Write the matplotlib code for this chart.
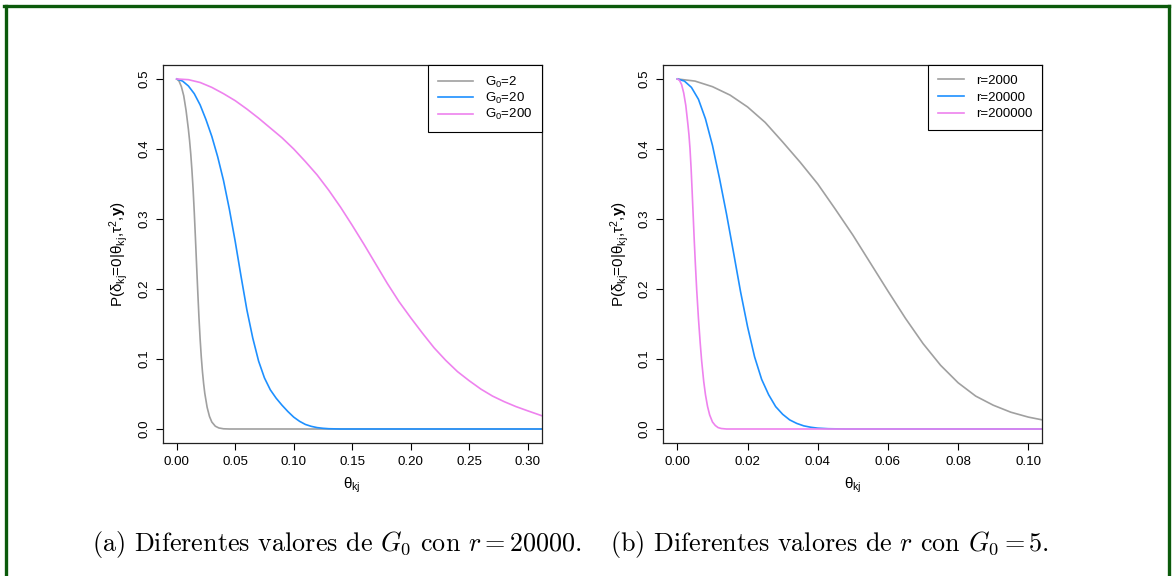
import matplotlib
matplotlib.use("Agg")
import matplotlib.pyplot as plt
from matplotlib.lines import Line2D

plt.rcParams['font.family'] = ['Liberation Sans', 'DejaVu Sans']
plt.rcParams['mathtext.fontset'] = 'custom'
plt.rcParams['mathtext.rm'] = 'Liberation Sans'
plt.rcParams['mathtext.it'] = 'Liberation Sans:italic'
plt.rcParams['mathtext.bf'] = 'Liberation Sans:bold'
plt.rcParams['mathtext.sf'] = 'Liberation Sans'

# (a) different G0, r = 20000
xa_g2 = [0.000, 0.002, 0.004, 0.006, 0.008, 0.010, 0.011, 0.012, 0.013, 0.014,
         0.015, 0.016, 0.017, 0.018, 0.019, 0.020, 0.021, 0.022, 0.023, 0.024,
         0.026, 0.028, 0.030, 0.033, 0.036, 0.040, 0.045, 0.312]
ya_g2 = [0.500, 0.497, 0.489, 0.476, 0.455, 0.428, 0.412, 0.393, 0.370, 0.343,
         0.310, 0.273, 0.234, 0.196, 0.160, 0.129, 0.103, 0.082, 0.065, 0.051,
         0.031, 0.018, 0.010, 0.004, 0.0015, 0.0003, 0.000, 0.000]
xa_g20 = [0.000, 0.005, 0.010, 0.015, 0.020, 0.025, 0.030, 0.035, 0.040, 0.045,
          0.050, 0.055, 0.060, 0.065, 0.070, 0.075, 0.080, 0.085, 0.090, 0.095,
          0.100, 0.105, 0.110, 0.115, 0.120, 0.125, 0.130, 0.140, 0.312]
ya_g20 = [0.500, 0.497, 0.490, 0.479, 0.463, 0.442, 0.418, 0.389, 0.355, 0.314,
          0.268, 0.218, 0.170, 0.130, 0.097, 0.073, 0.056, 0.044, 0.034, 0.025,
          0.017, 0.011, 0.0065, 0.0038, 0.002, 0.001, 0.0004, 0.000, 0.000]
xa_g200 = [0.000, 0.010, 0.020, 0.030, 0.040, 0.050, 0.060, 0.070, 0.080, 0.090,
           0.100, 0.110, 0.120, 0.130, 0.140, 0.150, 0.160, 0.170, 0.180, 0.190,
           0.200, 0.210, 0.220, 0.230, 0.240, 0.250, 0.260, 0.270, 0.280, 0.290,
           0.300, 0.312]
ya_g200 = [0.500, 0.499, 0.495, 0.488, 0.479, 0.469, 0.457, 0.444, 0.430, 0.416,
           0.400, 0.382, 0.363, 0.341, 0.317, 0.291, 0.264, 0.236, 0.208, 0.182,
           0.159, 0.137, 0.116, 0.098, 0.082, 0.069, 0.057, 0.047, 0.039, 0.032,
           0.026, 0.019]

# (b) different r, G0 = 5
xb_r2k = [0.000, 0.005, 0.010, 0.015, 0.020, 0.025, 0.030, 0.035, 0.040, 0.045,
          0.050, 0.055, 0.060, 0.065, 0.070, 0.075, 0.080, 0.085, 0.090, 0.095,
          0.100, 0.104]
yb_r2k = [0.500, 0.497, 0.489, 0.477, 0.460, 0.438, 0.410, 0.381, 0.350, 0.314,
          0.277, 0.237, 0.197, 0.158, 0.122, 0.091, 0.066, 0.047, 0.034, 0.024,
          0.017, 0.013]
xb_r20k = [0.000, 0.002, 0.004, 0.006, 0.008, 0.010, 0.012, 0.014, 0.016, 0.018,
           0.020, 0.022, 0.024, 0.026, 0.028, 0.030, 0.032, 0.034, 0.036, 0.038,
           0.040, 0.043, 0.048, 0.104]
yb_r20k = [0.500, 0.497, 0.488, 0.471, 0.443, 0.405, 0.358, 0.307, 0.252, 0.196,
           0.146, 0.103, 0.071, 0.049, 0.032, 0.021, 0.013, 0.008, 0.0045, 0.0025,
           0.0012, 0.0004, 0.000, 0.000]
xb_r200k = [0.0000, 0.0006, 0.0012, 0.0018, 0.0024, 0.0030, 0.0033, 0.0036, 0.0039,
            0.0042, 0.0045, 0.0048, 0.0051, 0.0055, 0.0060, 0.0065, 0.0069, 0.0075,
            0.0080, 0.0086, 0.0092, 0.0100, 0.0108, 0.0116, 0.0125, 0.0140, 0.104]
yb_r200k = [0.500, 0.498, 0.492, 0.480, 0.462, 0.435, 0.420, 0.400, 0.373,
            0.340, 0.305, 0.270, 0.238, 0.199, 0.158, 0.123, 0.098, 0.068,
            0.049, 0.032, 0.020, 0.010, 0.005, 0.002, 0.0007, 0.000, 0.000]

labels_a = [r'$\mathrm{G_0}$=2', r'$\mathrm{G_0}$=20', r'$\mathrm{G_0}$=200']
labels_b = ['r=2000', 'r=20000', 'r=200000']
xticks_a = [0.00, 0.05, 0.10, 0.15, 0.20, 0.25, 0.30]
xticks_b = [0.00, 0.02, 0.04, 0.06, 0.08, 0.10]
yticks = [0.0, 0.1, 0.2, 0.3, 0.4, 0.5]
colors = ['#a0a0a0', '#1e90ff', '#ee82ee']

fig = plt.figure(figsize=(11.72, 5.76), dpi=100)
ax1 = fig.add_axes([0.1388, 0.2309, 0.3234, 0.6563])
ax2 = fig.add_axes([0.5660, 0.2309, 0.3234, 0.6563])

ylab = r'P($\mathrm{\delta_{kj}}$=0|$\mathrm{\theta_{kj}}$,$\mathrm{\tau^2}$,$\mathbf{y}$)'

panels = [
    (ax1, [(xa_g2, ya_g2), (xa_g20, ya_g20), (xa_g200, ya_g200)], labels_a,
     xticks_a, ['0.00', '0.05', '0.10', '0.15', '0.20', '0.25', '0.30'], (-0.012, 0.312),
     2.6, 0.08),
    (ax2, [(xb_r2k, yb_r2k), (xb_r20k, yb_r20k), (xb_r200k, yb_r200k)], labels_b,
     xticks_b, ['0.00', '0.02', '0.04', '0.06', '0.08', '0.10'], (-0.004, 0.104),
     2.0, 0.33),
]

for ax, series, labs, xt, xtl, xl, hl, ls in panels:
    for (xs, ys), c, lab in zip(series, colors, labs):
        ax.plot(xs, ys, color=c, lw=1.2, label=lab)
    ax.set_xlim(xl)
    ax.set_ylim(-0.02, 0.52)
    ax.set_xticks(xt)
    ax.set_xticklabels(xtl)
    ax.set_yticks(yticks)
    ax.set_yticklabels(['0.0', '0.1', '0.2', '0.3', '0.4', '0.5'], rotation=90, va='center')
    ax.tick_params(direction='out', length=5, width=0.8, labelsize=9.6, pad=4)
    for s in ax.spines.values():
        s.set_linewidth(0.9)
        s.set_color('#222222')
    ax.set_xlabel(r'$\mathrm{\theta_{kj}}$', fontsize=11, labelpad=6)
    ax.set_ylabel(ylab, fontsize=11, labelpad=6)
    leg = ax.legend(loc='upper right', borderaxespad=0, fancybox=False, framealpha=1,
                    edgecolor='black', fontsize=9.5, handlelength=hl, handletextpad=0.9,
                    labelspacing=ls, borderpad=0.75)
    leg.get_frame().set_linewidth(0.8)

fig.text(0.2877, 0.054, r'(a) Diferentes valores de $G_0$ con $r = 20000$.',
         family='cmr10', math_fontfamily='cm', fontsize=18.8, ha='center', va='center')
fig.text(0.708, 0.054, r'(b) Diferentes valores de $r$ con $G_0 = 5$.',
         family='cmr10', math_fontfamily='cm', fontsize=18.8, ha='center', va='center')

# green frame
green = '#0b5a0b'
fig.add_artist(Line2D([0.0047, 0.0047], [0.0, 0.9896], color=green, lw=2.4,
                      transform=fig.transFigure))
fig.add_artist(Line2D([0.0034, 0.9974], [0.9896, 0.9896], color=green, lw=2.4,
                      transform=fig.transFigure))
fig.add_artist(Line2D([0.9974, 0.9974], [0.0, 0.9896], color=green, lw=2.4,
                      transform=fig.transFigure))

fig.savefig("out.png", dpi=100)
